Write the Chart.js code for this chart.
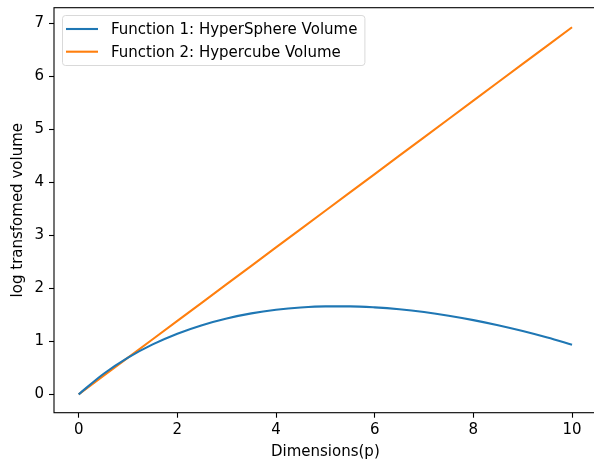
<!DOCTYPE html>
<html>
<head>
<meta charset="utf-8">
<script src="https://cdn.jsdelivr.net/npm/chart.js@4.4.1/dist/chart.umd.min.js"></script>
<style>
  html, body { margin: 0; padding: 0; background: #fff; overflow: hidden; }
  #wrap { width: 594px; height: 461px; overflow: hidden; }
</style>
</head>
<body>
<div id="wrap"><canvas id="chart" width="610" height="461"></canvas></div>
<script>
// dimensions p and log volumes
const dims = [0, 0.5, 1, 1.5, 2, 2.5, 3, 3.5, 4, 4.5, 5, 5.5, 6, 6.5, 7, 7.5, 8, 8.5, 9, 9.5, 10];
const sphereLog = [0, 0.384, 0.693, 0.943, 1.145, 1.306, 1.432, 1.528, 1.596, 1.640, 1.661,
                   1.661, 1.642, 1.606, 1.553, 1.484, 1.401, 1.304, 1.194, 1.071, 0.936];
const cubeLog = [0, 0.347, 0.693, 1.040, 1.386, 1.733, 2.079, 2.426, 2.773, 3.119, 3.466,
                 3.812, 4.159, 4.506, 4.852, 5.199, 5.545, 5.892, 6.238, 6.585, 6.931];
const seriesNames = ['Function 1: HyperSphere Volume', 'Function 2: Hypercube Volume'];
const xTicks = [0, 2, 4, 6, 8, 10];
const yTicks = [0, 1, 2, 3, 4, 5, 6, 7];

const FONT = "'DejaVu Sans', sans-serif";
const FS = 15;

function toPoints(ys) {
    return dims.map((d, i) => ({ x: d, y: ys[i] }));
}

// black frame around the plot area, like matplotlib spines
const framePlugin = {
    id: 'frame',
    afterDatasetsDraw(chart) {
        const a = chart.chartArea;
        const ctx = chart.ctx;
        ctx.save();
        ctx.strokeStyle = '#000';
        ctx.lineWidth = 1.1;
        ctx.strokeRect(a.left, a.top, a.right - a.left, a.bottom - a.top);
        ctx.restore();
    }
};

// legend box in upper left
const legendPlugin = {
    id: 'boxLegend',
    afterDraw(chart) {
        const ctx = chart.ctx;
        const sets = chart.data.datasets;
        ctx.save();
        ctx.font = FS + 'px ' + FONT;
        let maxW = 0;
        sets.forEach(ds => { maxW = Math.max(maxW, ctx.measureText(ds.label).width); });
        const x0 = 62, y0 = 15, h = 50;
        const w = 111 - x0 + maxW + 7;
        ctx.beginPath();
        ctx.roundRect(x0 + 0.5, y0 + 0.5, w, h, 3);
        ctx.fillStyle = 'rgba(255,255,255,0.8)';
        ctx.fill();
        ctx.strokeStyle = '#d9d9d9';
        ctx.lineWidth = 1;
        ctx.stroke();
        sets.forEach((ds, i) => {
            const yy = 29 + i * 22.7;
            ctx.strokeStyle = ds.borderColor;
            ctx.lineWidth = 2.1;
            ctx.beginPath();
            ctx.moveTo(66, yy);
            ctx.lineTo(98, yy);
            ctx.stroke();
            ctx.fillStyle = '#000';
            ctx.textBaseline = 'middle';
            ctx.fillText(ds.label, 111, yy + 1);
        });
        ctx.restore();
    }
};

new Chart(document.getElementById('chart'), {
    type: 'line',
    data: {
        datasets: [
            {
                label: seriesNames[0],
                data: toPoints(sphereLog),
                borderColor: '#1f77b4',
                borderWidth: 2.1,
                pointRadius: 0,
                cubicInterpolationMode: 'monotone',
                fill: false
            },
            {
                label: seriesNames[1],
                data: toPoints(cubeLog),
                borderColor: '#ff7f0e',
                borderWidth: 2.1,
                pointRadius: 0,
                fill: false
            }
        ]
    },
    options: {
        responsive: false,
        animation: false,
        devicePixelRatio: 1,
        layout: { padding: { left: 0, top: 7.7, right: 13.3, bottom: 0 } },
        plugins: {
            legend: { display: false },
            tooltip: { enabled: false }
        },
        scales: {
            x: {
                type: 'linear',
                min: -0.5,
                max: 10.5,
                afterBuildTicks: s => { s.ticks = xTicks.map(v => ({ value: v })); },
                afterFit: s => { s.height = 48.3; s.paddingLeft = 0; s.paddingRight = 0; },
                grid: { drawOnChartArea: false, drawTicks: true, tickLength: 5, tickColor: '#000', tickWidth: 1.1 },
                border: { display: false },
                ticks: { color: '#000', padding: 3.5, maxRotation: 0, font: { family: FONT, size: FS } },
                title: { display: true, text: 'Dimensions(p)', color: '#000', padding: { top: 0, bottom: 0 }, font: { family: FONT, size: FS } }
            },
            y: {
                type: 'linear',
                min: -0.347,
                max: 7.3,
                afterBuildTicks: s => { s.ticks = yTicks.map(v => ({ value: v })); },
                afterFit: s => { s.width = 54; s.paddingTop = 0; s.paddingBottom = 0; },
                grid: { drawOnChartArea: false, drawTicks: true, tickLength: 5, tickColor: '#000', tickWidth: 1.1 },
                border: { display: false },
                ticks: { color: '#000', padding: 5, font: { family: FONT, size: FS } },
                title: { display: true, text: 'log transfomed volume', color: '#000', padding: { top: 9, bottom: 0 }, font: { family: FONT, size: FS } }
            }
        }
    },
    plugins: [framePlugin, legendPlugin]
});
</script>
</body>
</html>
